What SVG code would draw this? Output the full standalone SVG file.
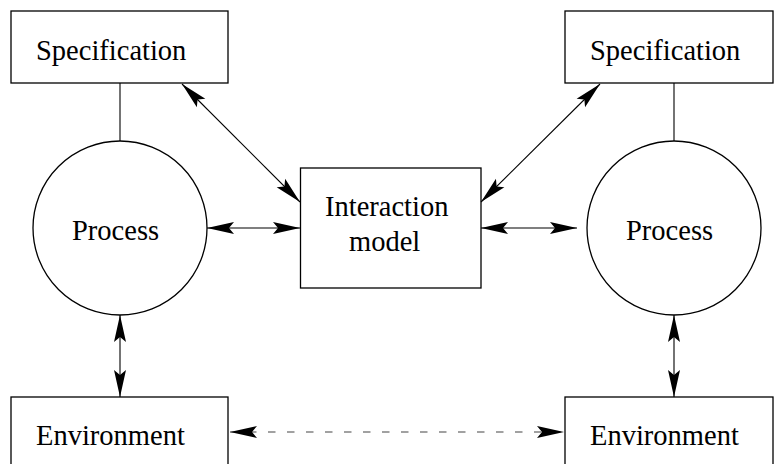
<svg xmlns="http://www.w3.org/2000/svg" width="774" height="464" viewBox="0 0 774 464">
<style>
.box{fill:#fff;stroke:#000;stroke-width:1.3}
.lbl{font-family:"Liberation Serif","Times New Roman",serif;font-size:28.5px;fill:#000}
.ln{stroke:#000;stroke-width:1.1;fill:none}
.arr{marker-start:url(#ah);marker-end:url(#ah)}
.dash{stroke-dasharray:7.5 11.5;stroke:#444}
</style>
<defs>
<marker id="ah" markerWidth="30" markerHeight="14" refX="27" refY="7" orient="auto-start-reverse" markerUnits="userSpaceOnUse" overflow="visible">
<path d="M27,7 L0,1 L5,7 L0,13 Z" fill="#000"/>
</marker>
</defs>
<rect width="774" height="464" fill="#fff"/>
<g id="spec-left"><rect class="box" x="11" y="11" width="217" height="72"/><text class="lbl" x="36" y="60">Specification</text></g>
<g id="spec-right"><rect class="box" x="565" y="11" width="208" height="72"/><text class="lbl" x="590" y="60">Specification</text></g>
<g id="process-left"><circle class="box" cx="120" cy="228" r="87"/><text class="lbl" x="72" y="240">Process</text></g>
<g id="process-right"><circle class="box" cx="674" cy="228" r="87"/><text class="lbl" x="626" y="240">Process</text></g>
<g id="interaction"><rect class="box" x="300.5" y="168" width="180.5" height="120"/><text class="lbl" x="325" y="216">Interaction</text><text class="lbl" x="349" y="251">model</text></g>
<g id="env-left"><rect class="box" x="11" y="397" width="217" height="80"/><text class="lbl" x="36" y="445">Environment</text></g>
<g id="env-right"><rect class="box" x="565" y="397" width="208" height="80"/><text class="lbl" x="590" y="445">Environment</text></g>
<g id="connectors">
<line class="ln" x1="120" y1="83" x2="120" y2="141"/>
<line class="ln" x1="674" y1="83" x2="674" y2="141"/>
<line class="ln arr" x1="182" y1="84" x2="300" y2="202"/>
<line class="ln arr" x1="600" y1="84" x2="481" y2="202"/>
<line class="ln arr" x1="207" y1="228" x2="300" y2="228"/>
<line class="ln arr" x1="481" y1="228" x2="577" y2="228"/>
<line class="ln arr" x1="120" y1="315" x2="120" y2="397"/>
<line class="ln arr" x1="674" y1="315" x2="674" y2="397"/>
<line class="ln arr dash" x1="230" y1="432" x2="564" y2="432"/>
</g>
</svg>
